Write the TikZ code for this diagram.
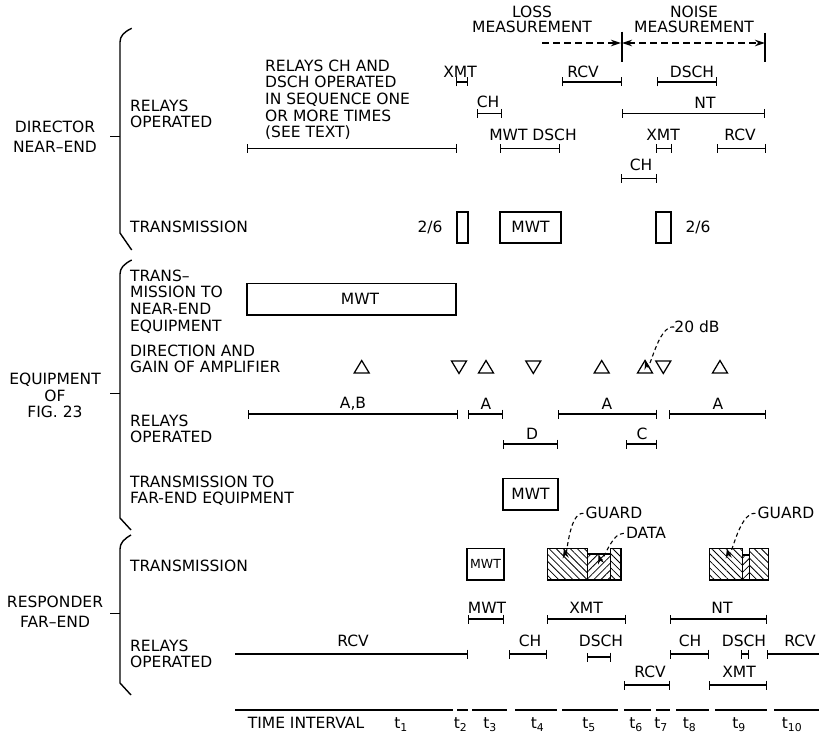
\documentclass[tikz,border=0pt]{standalone}
\usepackage{fontspec}
\setmainfont{DejaVu Sans}
\usetikzlibrary{arrows.meta,patterns.meta}
\newcommand\fsz{\fontsize{15.5}{16.7}\selectfont}
\newcommand\smfsz{\fontsize{12.5}{14}\selectfont}
% bar with ticks at both ends and a label: name, x1, x2, ybar, xlabel, ylabel, text
\newcommand\rlybar[7]{\draw[tb] (#2,#4) -- (#3,#4); \node[txt] (#1) at (#5,#6) {#7};}
\newcommand\triup[2]{\draw[tri] ({#1-7.5},{#2+6}) -- ({#1},{#2-6.5}) -- ({#1+7.5},{#2+6}) -- cycle;}
\newcommand\tridn[2]{\draw[tri] ({#1-7.5},{#2-6}) -- ({#1},{#2+6.5}) -- ({#1+7.5},{#2-6}) -- cycle;}
\begin{document}
\begin{tikzpicture}[x=1pt,y=-1pt,
  txt/.style={font=\fsz, inner sep=0pt, text height=11.3pt, text depth=0pt},
  mtxt/.style={font=\fsz, inner sep=0pt, align=left, anchor=north west},
  ctxt/.style={font=\fsz, inner sep=0pt, align=center, anchor=north},
  ln/.style={line width=1.4pt},
  tri/.style={line width=1.25pt, line join=miter},
  tb/.style={line width=1.4pt, {Bar[width=9pt]}-{Bar[width=9pt]}},
  tbl/.style={line width=1.4pt, {Bar[width=9pt]}-},
  tbr/.style={line width=1.4pt, -{Bar[width=9pt]}},
  box/.style={line width=1.3pt},
  darr/.style={line width=1.2pt, dash pattern=on 7pt off 4pt, -{Stealth[length=10pt,width=6.5pt]}},
  dbarr/.style={line width=1.2pt, dash pattern=on 7pt off 4pt, {Stealth[length=10pt,width=6.5pt]}-{Stealth[length=10pt,width=6.5pt]}},
  carr/.style={line width=1.1pt, dash pattern=on 4pt off 3pt, -{Stealth[length=10pt,width=6pt]}},
  hatchA/.style={line width=1.3pt, pattern={Lines[angle=-45,distance=5pt,line width=0.8pt]}},
  hatchB/.style={line width=1.3pt, pattern={Lines[angle=45,distance=5pt,line width=0.8pt]}}
]
\useasboundingbox (0,0) rectangle (819,735);

% ---------------- left group labels and braces
\node[ctxt] (dir) at (55,121) {DIRECTOR\\[3.3pt]NEAR–END};
\node[ctxt] (equ) at (55,372.7) {EQUIPMENT\\OF\\FIG. 23};
\node[ctxt] (resp) at (55,596) {RESPONDER\\[3.3pt]FAR–END};

\draw[ln] (131.7,28.3) .. controls (124,32) and (120,36) .. (120,42) -- (120,233) -- (131.7,250);
\draw[ln] (110,136.7) -- (120,136.7);
\draw[ln] (131.7,260) .. controls (124,264) and (120,268) .. (120,274) -- (120,518) -- (131,530);
\draw[ln] (110,393.3) -- (120,393.3);
\draw[ln] (131,535) .. controls (124,539) and (120,543) .. (120,549) -- (120,683) -- (131,695);
\draw[ln] (110,613.3) -- (120,613.3);

% ---------------- row labels
\node[mtxt] (l1) at (130,99.3) {RELAYS\\OPERATED};
\node[txt, anchor=west] (l2) at (130,227) {TRANSMISSION};
\node[mtxt] (l3) at (130,269.3) {TRANS–\\MISSION TO\\NEAR-END\\EQUIPMENT};
\node[mtxt] (l4) at (130,344.3) {DIRECTION AND\\GAIN OF AMPLIFIER};
\node[mtxt] (l5) at (130,414.3) {RELAYS\\OPERATED};
\node[mtxt] (l6) at (130,475.3) {TRANSMISSION TO\\FAR-END EQUIPMENT};
\node[txt, anchor=west] (l7) at (130,566) {TRANSMISSION};
\node[mtxt] (l8) at (130,639.3) {RELAYS\\OPERATED};

% ---------------- loss / noise measurement
\node[ctxt] (loss) at (532,6) {LOSS\\[-1.7pt]MEASUREMENT};
\node[ctxt] (noise) at (694,6) {NOISE\\[-1.7pt]MEASUREMENT};
\coordinate (vt1) at (622,31.7); \coordinate (vb1) at (622,61.7);
\coordinate (vt2) at (765,33);   \coordinate (vb2) at (765,62);
\draw[ln] (vt1) -- (vb1);
\draw[ln] (vt2) -- (vb2);
\coordinate (lossS) at (542,43); \coordinate (mid) at (621,43); \coordinate (noiseE) at (765,43);
\draw[darr] (lossS) -- (mid);
\draw[dbarr] ([xshift=1pt]mid) -- (noiseE);

% ---------------- director relays
\draw[tb] (247,148.3) -- (457,148.3);
\node[mtxt] (seq) at (265,59.3) {RELAYS CH AND\\DSCH OPERATED\\IN SEQUENCE ONE\\OR MORE TIMES\\(SEE TEXT)};
\rlybar{d1}{456}{468}{82}{460}{71.7}{XMT}
\rlybar{d2}{477}{502}{113.3}{488}{101.7}{CH}
\rlybar{d3}{500}{560}{148.3}{533}{135}{MWT DSCH}
\rlybar{d4}{562}{622}{82}{583}{71.7}{RCV}
\rlybar{d5}{657}{717}{82}{692}{71.7}{DSCH}
\rlybar{d6}{622}{765}{113.3}{705}{103}{NT}
\rlybar{d7}{656}{672}{148.3}{663}{135}{XMT}
\rlybar{d8}{717}{766}{148.3}{740}{135}{RCV}
\rlybar{d9}{621}{657}{178.3}{641}{165}{CH}

% ---------------- director transmission
\node[txt] (t26a) at (430,227.3) {2/6};
\draw[box] (457,212) rectangle (468,243);
\draw[box] (500,212) rectangle (561,243);
\node[txt] (tmwt) at (530.5,227.3) {MWT};
\draw[box] (656,212) rectangle (671,243);
\node[txt] (t26b) at (698,227.3) {2/6};

% ---------------- equipment
\draw[box] (247,283.3) rectangle (456,315);
\node[txt] (emwt) at (360,299.3) {MWT};

\triup{361.7}{367}
\tridn{459}{367}
\triup{486}{367}
\tridn{533.3}{367}
\triup{601.7}{367}
\triup{645}{367}
\tridn{663.3}{367}
\triup{720}{367}
\coordinate (apex) at (645,359.5);
\node[txt] (db) at (697,327) {20 dB};
\draw[carr] (db.west) to[out=170,in=285] (apex);

\rlybar{e1}{248}{458}{414}{353}{403}{A,B}
\rlybar{e2}{468}{503}{414}{486}{404}{A}
\rlybar{e3}{558}{657}{414}{607}{404}{A}
\rlybar{e4}{669}{766}{414}{718}{404}{A}
\rlybar{e5}{503}{558}{444}{532}{434}{D}
\rlybar{e6}{626}{657}{444}{642}{434}{C}

\draw[box] (503,478.3) rectangle (558,510);
\node[txt] (fmwt) at (530.5,494) {MWT};

% ---------------- responder transmission
\draw[box] (467,548.3) rectangle (504,580);
\node[txt, font=\smfsz, text height=9.1pt] (rmwt) at (485.5,564.3) {MWT};
\draw[hatchA] (547.3,548.3) rectangle (587.7,580);
\draw[hatchB] (587.7,554) rectangle (610.7,580);
\draw[hatchA] (610.7,548.3) rectangle (621,580);
\draw[hatchA] (709.3,548.3) rectangle (742.7,580);
\draw[hatchB] (742.7,555) rectangle (749.3,580);
\draw[hatchA] (749.3,548.3) rectangle (768.3,580);

\node[txt] (g1) at (614,513.3) {GUARD};
\node[txt] (dat) at (646,533.3) {DATA};
\node[txt] (g2) at (786,513.3) {GUARD};
\coordinate (g1t) at (564,548.3);
\coordinate (datt) at (598.5,554);
\coordinate (g2t) at (727,548.3);
\draw[carr] ([xshift=-2pt]g1.west) to[out=175,in=280] (g1t);
\draw[carr] ([xshift=-2pt]dat.west) to[out=175,in=285] (datt);
\draw[carr] ([xshift=-2pt]g2.west) to[out=175,in=280] (g2t);

% ---------------- responder relays
\rlybar{r1}{468}{504}{619}{487}{608}{MWT}
\rlybar{r2}{547}{626}{619}{586}{608}{XMT}
\rlybar{r3}{670}{767}{619}{722}{608}{NT}
\draw[tbr] (235,654) -- (468,654);
\node[txt] (r4) at (353,641) {RCV};
\rlybar{r5}{509}{547}{654}{530}{641}{CH}
\rlybar{r6}{587}{611}{657}{601}{641}{DSCH}
\rlybar{r7}{670}{709}{654}{690}{641}{CH}
\rlybar{r8}{741}{749}{654}{744}{641}{DSCH}
\draw[tbl] (767,654) -- (819,654);
\node[txt] (r9) at (800,641) {RCV};
\rlybar{r10}{624}{670}{685}{650}{672}{RCV}
\rlybar{r11}{709}{767}{685}{739}{672}{XMT}

% ---------------- time axis
\foreach \a/\b in {235/453,457/468,472/507,515/557,562/618,624/651,656/670,676/709,715/767,774/819}
  \draw[ln] (\a,710) -- (\b,710);
\node[txt] (ti) at (306,723) {TIME INTERVAL};
\node[txt] (x1) at (401,723) {t\textsubscript{1}};
\node[txt] (x2) at (460.5,723) {t\textsubscript{2}};
\node[txt] (x3) at (490,723) {t\textsubscript{3}};
\node[txt] (x4) at (537.5,723) {t\textsubscript{4}};
\node[txt] (x5) at (589,723) {t\textsubscript{5}};
\node[txt] (x6) at (636,723) {t\textsubscript{6}};
\node[txt] (x7) at (661,723) {t\textsubscript{7}};
\node[txt] (x8) at (689.5,723) {t\textsubscript{8}};
\node[txt] (x9) at (739,723) {t\textsubscript{9}};
\node[txt] (x10) at (792,723) {t\textsubscript{10}};
\end{tikzpicture}
\end{document}
